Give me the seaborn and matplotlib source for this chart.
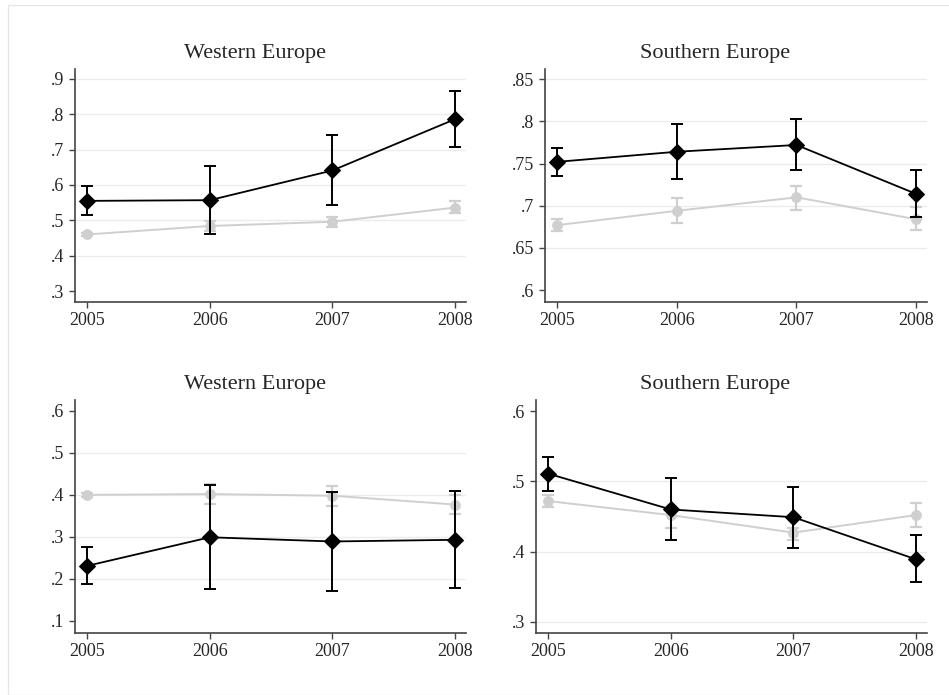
import numpy as np
import pandas as pd
import matplotlib
matplotlib.use('Agg')
import matplotlib.pyplot as plt
import seaborn as sns
from matplotlib.patches import Rectangle

years = [2005, 2006, 2007, 2008]
titles = ['Western Europe', 'Southern Europe', 'Western Europe', 'Southern Europe']

# black diamonds: estimate, lower, upper
black_est = [[.555, .557, .641, .786], [.752, .764, .772, .714],
             [.231, .299, .289, .293], [.511, .460, .449, .389]]
black_lo = [[.515, .461, .544, .706], [.735, .732, .742, .687],
            [.187, .175, .171, .178], [.487, .416, .405, .357]]
black_hi = [[.598, .655, .740, .866], [.769, .797, .803, .742],
            [.275, .424, .408, .410], [.535, .505, .492, .423]]

# grey circles: estimate, lower, upper
grey_est = [[.460, .484, .496, .536], [.677, .694, .710, .684],
            [.400, .402, .398, .377], [.472, .452, .427, .452]]
grey_lo = [[.456, .470, .480, .520], [.670, .680, .695, .671],
           [.396, .379, .374, .354], [.464, .433, .417, .435]]
grey_hi = [[.464, .498, .510, .554], [.684, .709, .724, .699],
           [.404, .425, .420, .400], [.480, .459, .433, .469]]

yticks = [[.3, .4, .5, .6, .7, .8, .9], [.6, .65, .7, .75, .8, .85],
          [.1, .2, .3, .4, .5, .6], [.3, .4, .5, .6]]
ytick_labels = [['.3', '.4', '.5', '.6', '.7', '.8', '.9'],
                ['.6', '.65', '.7', '.75', '.8', '.85'],
                ['.1', '.2', '.3', '.4', '.5', '.6'],
                ['.3', '.4', '.5', '.6']]
gridlines = [[.4, .5, .6, .7, .8, .9], [.65, .7, .75, .8, .85],
             [.2, .3, .4, .5], [.3, .4, .5]]
ylims = [(.269, .928), (.586, .862), (.071, .626), (.284, .616)]

sns.set_style('white')
plt.rcParams['font.family'] = ['Liberation Serif', 'DejaVu Serif']

W, H = 949, 695
fig = plt.figure(figsize=(W / 100, H / 100), dpi=100)
fig.patches.append(Rectangle((8 / W, 0), 1, 1 - 5 / H, transform=fig.transFigure,
                             fill=False, edgecolor='#e6e6e6', linewidth=1))

# panel boxes in pixels: left, right, top, bottom
boxes = [(75, 466, 69, 302), (545, 927, 69, 302), (75, 466, 400, 633), (536, 927, 400, 633)]
title_x = [0.46, 0.445, 0.46, 0.458]

grey = '#cfcfcf'
for i, (l, r, t, b) in enumerate(boxes):
    ax = fig.add_axes([l / W, 1 - b / H, (r - l) / W, (b - t) / H])
    for g in gridlines[i]:
        ax.axhline(g, color='#ececec', linewidth=1, zorder=0)

    df_g = pd.DataFrame({'year': years, 'val': grey_est[i]})
    df_b = pd.DataFrame({'year': years, 'val': black_est[i]})

    ax.errorbar(years, grey_est[i],
                yerr=[np.array(grey_est[i]) - np.array(grey_lo[i]),
                      np.array(grey_hi[i]) - np.array(grey_est[i])],
                fmt='none', ecolor=grey, elinewidth=1.6, capsize=4, capthick=1.6, zorder=2)
    sns.lineplot(data=df_g, x='year', y='val', ax=ax, color=grey, linewidth=1.4,
                 marker='o', markersize=7, markeredgecolor=grey, zorder=3)

    ax.errorbar(years, black_est[i],
                yerr=[np.array(black_est[i]) - np.array(black_lo[i]),
                      np.array(black_hi[i]) - np.array(black_est[i])],
                fmt='none', ecolor='black', elinewidth=1.4, capsize=4, capthick=1.4, zorder=4)
    sns.lineplot(data=df_b, x='year', y='val', ax=ax, color='black', linewidth=1.3,
                 marker='D', markersize=8, markeredgecolor='black', zorder=5)

    ax.set_xlim(2004.90, 2008.09)
    ax.set_ylim(*ylims[i])
    ax.set_xticks(years)
    ax.set_xticklabels([str(y) for y in years], fontsize=13)
    ax.set_yticks(yticks[i])
    ax.set_yticklabels(ytick_labels[i], fontsize=13)
    ax.set_xlabel('')
    ax.set_ylabel('')
    ax.tick_params(axis='both', direction='out', length=4.5, width=1, color='#444444',
                   pad=3, left=True, bottom=True)
    for s in ['top', 'right']:
        ax.spines[s].set_visible(False)
    for s in ['left', 'bottom']:
        ax.spines[s].set_color('#444444')
        ax.spines[s].set_linewidth(1.2)
    ax.text(title_x[i], 1 + 11 / (b - t), titles[i], transform=ax.transAxes, ha='center',
            va='baseline', fontsize=16)

fig.savefig('out.png', dpi=100)
